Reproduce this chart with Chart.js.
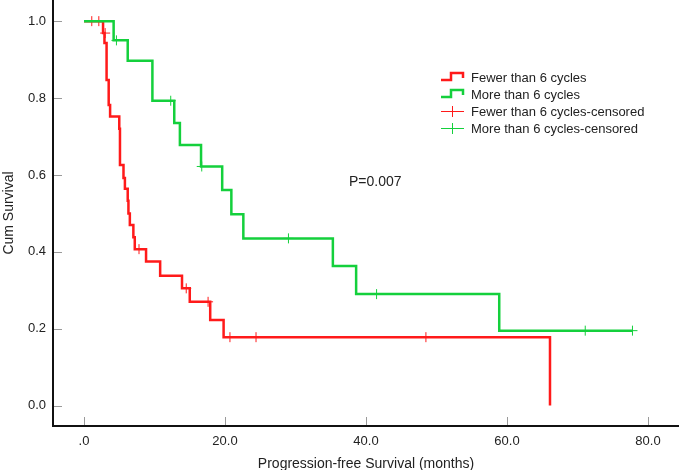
<!DOCTYPE html>
<html>
<head>
<meta charset="utf-8">
<script src="https://cdn.jsdelivr.net/npm/chart.js@4/dist/chart.umd.min.js"></script>
<style>
  html, body { margin: 0; padding: 0; background: #fff; }
  #wrap { width: 679px; height: 470px; }
</style>
</head>
<body>
<div id="wrap"><canvas id="km" width="679" height="470"></canvas></div>
<script>
// Kaplan-Meier steps (time in months, cumulative survival)
var redTimes = [0, 2.7, 2.9, 3.2, 3.5, 3.7, 5.0, 5.1, 5.6, 5.8, 6.2, 6.3, 6.5, 7.0, 7.2, 8.8, 10.8, 13.9, 15.0, 17.9, 19.8, 66.1];
var redSurv  = [1.0, 0.969, 0.943, 0.847, 0.782, 0.752, 0.720, 0.626, 0.592, 0.564, 0.533, 0.500, 0.470, 0.438, 0.407, 0.375, 0.338, 0.305, 0.270, 0.223, 0.178, 0.0];
var redCensorTimes = [1.1, 2.1, 3.0, 7.8, 14.5, 17.6, 20.7, 24.4, 48.5];
var redCensorSurv  = [1.0, 1.0, 0.969, 0.407, 0.305, 0.270, 0.178, 0.178, 0.178];

var greenTimes = [0, 4.2, 6.2, 9.7, 12.8, 13.6, 16.6, 19.6, 20.9, 22.6, 35.3, 38.6, 58.9, 77.8];
var greenSurv  = [1.0, 0.95, 0.897, 0.793, 0.735, 0.678, 0.622, 0.561, 0.498, 0.435, 0.363, 0.29, 0.195, 0.195];
var greenCensorTimes = [4.6, 12.3, 16.7, 29.0, 41.5, 71.1, 77.8];
var greenCensorSurv  = [0.95, 0.793, 0.622, 0.435, 0.29, 0.195, 0.195];

var xTicks = [0, 20, 40, 60, 80];
var yTicks = [0, 0.2, 0.4, 0.6, 0.8, 1.0];
var legendLabels = ['Fewer than 6 cycles', 'More than 6 cycles', 'Fewer than 6 cycles-censored', 'More than 6 cycles-censored'];
var pText = 'P=0.007';

var RED = '#ff1a1a';
var GREEN = '#14d03c';

function pts(xs, ys) {
    return xs.map(function (x, i) { return { x: x, y: ys[i] }; });
}

// small inner tick marks, legend and p-value
var extras = {
    id: 'extras',
    afterDraw: function (chart) {
        var ctx = chart.ctx;
        var xs = chart.scales.x, ys = chart.scales.y;
        var a = chart.chartArea;
        ctx.save();
        ctx.strokeStyle = '#9a9a9a';
        ctx.lineWidth = 1;
        yTicks.forEach(function (v) {
            var py = Math.round(ys.getPixelForValue(v)) + 0.5;
            ctx.beginPath(); ctx.moveTo(a.left + 1, py); ctx.lineTo(a.left + 9, py); ctx.stroke();
        });
        xTicks.forEach(function (v) {
            var px = Math.round(xs.getPixelForValue(v)) + 0.5;
            ctx.beginPath(); ctx.moveTo(px, a.bottom - 1); ctx.lineTo(px, a.bottom - 9); ctx.stroke();
        });

        // legend
        var lx = 441, ly = [77, 94, 111, 128];
        ctx.font = '13px "Liberation Sans", Arial, sans-serif';
        ctx.fillStyle = '#222';
        ctx.textBaseline = 'middle';
        ctx.textAlign = 'left';
        for (var i = 0; i < 4; i++) {
            var c = (i % 2 === 0) ? RED : GREEN;
            ctx.strokeStyle = c;
            if (i < 2) {
                ctx.lineWidth = 2.5;
                ctx.beginPath();
                ctx.moveTo(lx, ly[i] + 3);
                ctx.lineTo(lx + 10, ly[i] + 3);
                ctx.lineTo(lx + 10, ly[i] - 4);
                ctx.lineTo(lx + 22, ly[i] - 4);
                ctx.lineTo(lx + 22, ly[i] + 1);
                ctx.stroke();
            } else {
                ctx.lineWidth = 1;
                ctx.beginPath();
                ctx.moveTo(lx, ly[i] + 0.5); ctx.lineTo(lx + 23, ly[i] + 0.5);
                ctx.moveTo(lx + 11.5, ly[i] - 5); ctx.lineTo(lx + 11.5, ly[i] + 6);
                ctx.stroke();
            }
            ctx.fillText(legendLabels[i], 471, ly[i] + 1);
        }
        ctx.font = '14px "Liberation Sans", Arial, sans-serif';
        ctx.fillText(pText, 349, 182);
        ctx.restore();
    }
};

Chart.defaults.font.family = '"Liberation Sans", Arial, sans-serif';
Chart.defaults.font.size = 13;
Chart.defaults.color = '#222';

new Chart(document.getElementById('km'), {
    type: 'scatter',
    data: {
        datasets: [
            {
                label: legendLabels[1], data: pts(greenTimes, greenSurv), showLine: true, stepped: 'before',
                borderColor: GREEN, borderWidth: 2.5, pointRadius: 0, fill: false
            },
            {
                label: legendLabels[3], data: pts(greenCensorTimes, greenCensorSurv), showLine: false,
                pointStyle: 'cross', pointRadius: 5, borderColor: GREEN, borderWidth: 1
            },
            {
                label: legendLabels[0], data: pts(redTimes, redSurv), showLine: true, stepped: 'before',
                borderColor: RED, borderWidth: 2.5, pointRadius: 0, fill: false
            },
            {
                label: legendLabels[2], data: pts(redCensorTimes, redCensorSurv), showLine: false,
                pointStyle: 'cross', pointRadius: 5, borderColor: RED, borderWidth: 1
            }
        ]
    },
    options: {
        responsive: false,
        animation: false,
        devicePixelRatio: 1,
        layout: { padding: 0, autoPadding: false },
        plugins: { legend: { display: false }, tooltip: { enabled: false } },
        scales: {
            x: {
                type: 'linear', min: -4.4, max: 84.4,
                afterBuildTicks: function (s) { s.ticks = xTicks.map(function (v) { return { value: v }; }); },
                afterFit: function (s) { s.height = 44; s.paddingLeft = 0; s.paddingRight = 0; },
                grid: { display: false, drawTicks: false },
                border: { display: true, color: '#111', width: 2 },
                ticks: { padding: 8, maxRotation: 0, callback: function (v) { return v === 0 ? '.0' : v.toFixed(1); } },
                title: { display: true, text: 'Progression-free Survival (months)', font: { size: 14 }, padding: { top: 4, bottom: -3 } }
            },
            y: {
                type: 'linear', min: -0.053, max: 1.055,
                afterBuildTicks: function (s) { s.ticks = yTicks.map(function (v) { return { value: v }; }); },
                afterFit: function (s) { s.width = 53; s.paddingTop = 0; s.paddingBottom = 0; },
                grid: { display: false, drawTicks: false },
                border: { display: true, color: '#111', width: 2 },
                ticks: { padding: 7, callback: function (v) { return v.toFixed(1); } },
                title: { display: true, text: 'Cum Survival', font: { size: 14 }, padding: { top: 1, bottom: 0 } }
            }
        }
    },
    plugins: [extras]
});
</script>
</body>
</html>
